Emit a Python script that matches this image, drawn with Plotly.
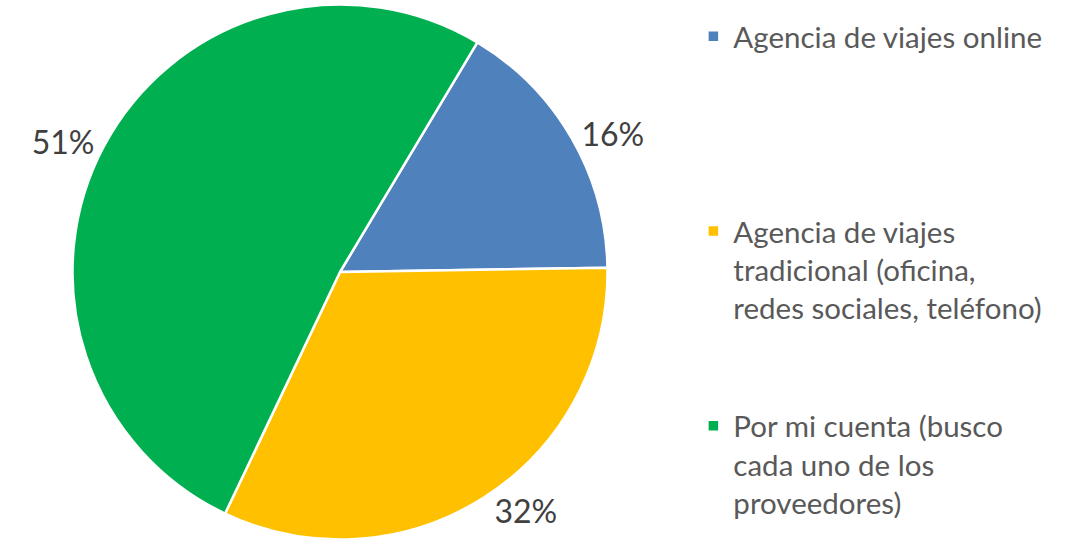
import plotly.graph_objects as go

# Survey: how trips are organised (share of respondents, %)
categories = [
    "Agencia de viajes online",
    "Agencia de viajes tradicional (oficina, redes sociales, teléfono)",
    "Por mi cuenta (busco cada uno de los proveedores)",
]
shares = [16, 32, 51]
colors = ["#4F81BD", "#FFC000", "#00B050"]

NARROW = set("ilfjtrI,.()' ")


def text_width(s):
    """Rough width estimate in average-character units."""
    return sum(0.5 if ch in NARROW else 1.0 for ch in s)


def wrap(label, max_width=20.2):
    """Break a long label into lines no wider than `max_width`."""
    lines, cur = [], ""
    for word in label.split():
        trial = f"{cur} {word}" if cur else word
        if cur and text_width(trial) > max_width:
            lines.append(cur)
            cur = word
        else:
            cur = trial
    lines.append(cur)
    return lines


# Every legend entry except the last is padded to the same number of lines
# so the entries are spread evenly down the right-hand side.
ENTRY_LINES = 5
legend_labels = []
for i, c in enumerate(categories):
    lines = wrap(c)
    if i < len(categories) - 1:
        lines += ["&nbsp;"] * (ENTRY_LINES - len(lines))
    legend_labels.append("<br>".join(lines))

W, H = 1073, 556
cx, cy, r = 340, 272, 267.5

fig = go.Figure(
    go.Pie(
        labels=legend_labels,
        values=shares,
        text=[f"{v}%" for v in shares],
        textinfo="text",
        textposition="outside",
        textfont=dict(family="Lato", size=32, color="#404040"),
        marker=dict(colors=colors, line=dict(color="white", width=2.5)),
        sort=False,
        direction="clockwise",
        rotation=30.9,
        hoverinfo="percent+value",
        domain=dict(
            x=[(cx - r) / W, (cx + r) / W],
            y=[1 - (cy + r) / H, 1 - (cy - r) / H],
        ),
    )
)

fig.update_layout(
    width=W,
    height=H,
    margin=dict(l=0, r=0, t=0, b=0),
    paper_bgcolor="white",
    plot_bgcolor="white",
    showlegend=True,
    legend=dict(
        x=0.6462,
        xanchor="left",
        y=0.981,
        yanchor="top",
        valign="top",
        maxheight=1,
        font=dict(family="Lato", size=29.5, color="#595959"),
        bgcolor="rgba(0,0,0,0)",
        traceorder="normal",
    ),
)

fig.write_html("out.html")
